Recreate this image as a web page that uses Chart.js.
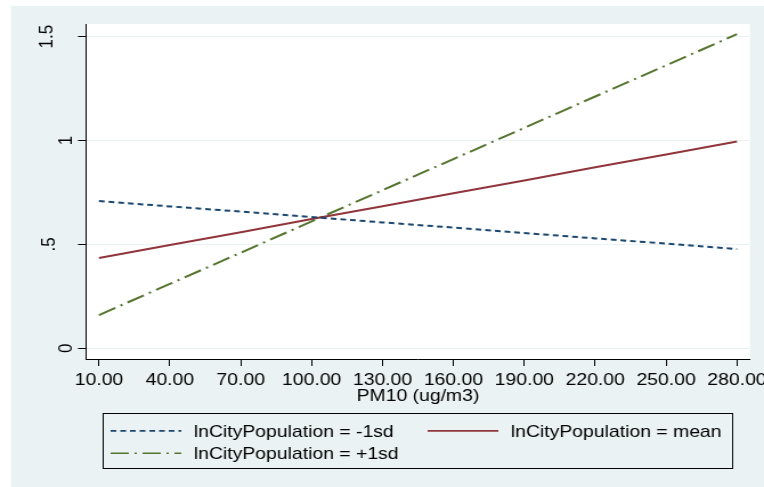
<!DOCTYPE html>
<html>
<head>
<meta charset="utf-8">
<script src="https://cdn.jsdelivr.net/npm/chart.js@4.4.1/dist/chart.umd.min.js"></script>
<style>
  html, body { margin: 0; padding: 0; background: #fff; overflow: hidden; }
  /* Stata graph was resized wider than it was drawn, so stretch it the same way */
  #wrap { width: 670px; height: 487px; transform: scaleX(1.1403); transform-origin: 0 0; }
</style>
</head>
<body>
<div id="wrap"><canvas id="chart"></canvas></div>
<script>
// PM10 values where the margins were evaluated
const pm10 = [10, 40, 70, 100, 130, 160, 190, 220, 250, 280];

// predicted values
const minus1sd = [0.709, 0.683, 0.658, 0.632, 0.606, 0.581, 0.555, 0.529, 0.504, 0.478];
const meanPop = [0.435, 0.497, 0.559, 0.622, 0.684, 0.746, 0.808, 0.871, 0.933, 0.995];
const plus1sd = [0.160, 0.310, 0.460, 0.611, 0.761, 0.911, 1.061, 1.212, 1.362, 1.512];

const seriesLabels = [
  "lnCityPopulation = -1sd",
  "lnCityPopulation = mean",
  "lnCityPopulation = +1sd",
];

const xTicks = [10, 40, 70, 100, 130, 160, 190, 220, 250, 280];
const yTicks = [0, 0.5, 1, 1.5];

const FONT = "Liberation Sans, Arial, sans-serif";
const BG = "#EAF2F3";

function pairs(ys) {
  return pm10.map((x, i) => ({ x: x, y: ys[i] }));
}

// Stata style: 0, .5, 1, 1.5
function fmtY(v) {
  return String(v).replace(/^0\./, ".");
}

// grey graph region + white plot region
const background = {
  id: "background",
  beforeDraw(chart) {
    const { ctx, width, height, chartArea } = chart;
    ctx.save();
    ctx.fillStyle = "#fff";
    ctx.fillRect(0, 0, width, height);
    ctx.fillStyle = BG;
    ctx.fillRect(9.6, 6, width - 9.6, height - 6);
    ctx.fillStyle = "#fff";
    ctx.fillRect(chartArea.left, chartArea.top, chartArea.right - chartArea.left, chartArea.bottom - chartArea.top);
    ctx.restore();
  },
};

// rotated y labels, like Stata draws them
const yLabels = {
  id: "yLabels",
  afterDraw(chart) {
    const { ctx } = chart;
    const s = chart.scales.y;
    ctx.save();
    ctx.font = "17px " + FONT;
    ctx.fillStyle = "#000";
    ctx.textAlign = "center";
    ctx.textBaseline = "alphabetic";
    s.ticks.forEach((t) => {
      const txt = fmtY(t.value);
      const bx = txt.length === 1 ? 63 : txt.length === 2 ? 48 : 46;
      ctx.save();
      ctx.translate(bx, s.getPixelForValue(t.value));
      ctx.rotate(-Math.PI / 2);
      ctx.fillText(txt, 0, 0);
      ctx.restore();
    });
    ctx.restore();
  },
};

// boxed two-column legend
const legendBox = {
  id: "legendBox",
  afterDraw(chart) {
    const { ctx } = chart;
    const slots = [[97, 436.7], [375, 436.7], [97, 459]];
    ctx.save();
    ctx.strokeStyle = "#000";
    ctx.lineWidth = 1;
    ctx.strokeRect(90.5, 413.5, 552, 55);
    ctx.font = "17px " + FONT;
    ctx.textBaseline = "alphabetic";
    chart.data.datasets.forEach((d, i) => {
      const [x, y] = slots[i];
      ctx.beginPath();
      ctx.setLineDash(d.borderDash || []);
      ctx.strokeStyle = d.borderColor;
      ctx.lineWidth = 1.6;
      ctx.moveTo(x, y - 5.8);
      ctx.lineTo(x + 62, y - 5.8);
      ctx.stroke();
      ctx.setLineDash([]);
      ctx.fillStyle = "#000";
      ctx.fillText(d.label, x + 73, y);
    });
    ctx.restore();
  },
};

new Chart(document.getElementById("chart"), {
  type: "line",
  data: {
    datasets: [
      {
        label: seriesLabels[0],
        data: pairs(minus1sd),
        borderColor: "#1A476F",
        borderDash: [5, 3.5],
        borderWidth: 2,
      },
      {
        label: seriesLabels[1],
        data: pairs(meanPop),
        borderColor: "#90353B",
        borderWidth: 2,
      },
      {
        label: seriesLabels[2],
        data: pairs(plus1sd),
        borderColor: "#55752F",
        borderDash: [16, 5, 2, 5],
        borderWidth: 2,
      },
    ],
  },
  options: {
    responsive: true,
    maintainAspectRatio: false,
    animation: false,
    devicePixelRatio: 1,
    layout: { padding: { left: 0, right: 12.3, top: 24, bottom: 78 } },
    elements: { point: { radius: 0 }, line: { tension: 0, fill: false } },
    plugins: {
      legend: { display: false },
      tooltip: { enabled: false },
    },
    scales: {
      x: {
        type: "linear",
        min: 4.5,
        max: 285.5,
        afterBuildTicks: (s) => {
          s.ticks = xTicks.map((v) => ({ value: v }));
        },
        afterFit: (s) => {
          s.height = 50;
          s.paddingLeft = 0;
          s.paddingRight = 0;
        },
        ticks: {
          callback: (v) => Number(v).toFixed(2),
          font: { family: FONT, size: 17 },
          color: "#000",
          padding: 4,
          maxRotation: 0,
          autoSkip: false,
        },
        grid: { drawOnChartArea: false, tickLength: 7, tickColor: "#000", tickWidth: 1 },
        border: { display: true, color: "#000", width: 1 },
        title: {
          display: true,
          text: "PM10 (ug/m3)",
          font: { family: FONT, size: 17 },
          color: "#000",
          padding: { top: 0, bottom: 2 },
        },
      },
      y: {
        min: -0.0515,
        max: 1.561,
        afterBuildTicks: (s) => {
          s.ticks = yTicks.map((v) => ({ value: v }));
        },
        afterFit: (s) => {
          s.width = 75.4;
        },
        ticks: { display: false },
        grid: { color: BG, lineWidth: 1, tickLength: 7, tickColor: "#000", tickWidth: 1 },
        border: { display: true, color: "#000", width: 1 },
      },
    },
  },
  plugins: [background, yLabels, legendBox],
});
</script>
</body>
</html>
